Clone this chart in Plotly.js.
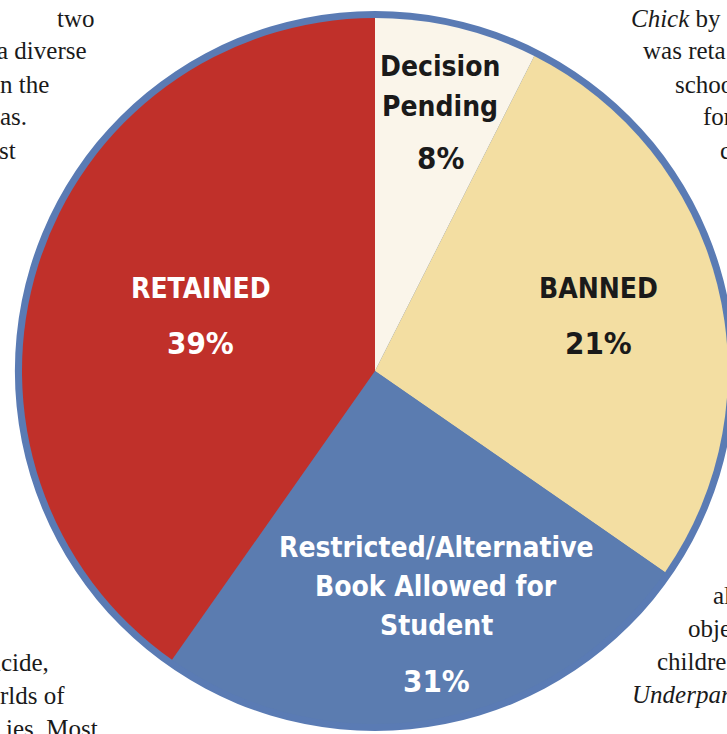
<!DOCTYPE html>
<html>
<head>
<meta charset="utf-8">
<script src="https://cdn.plot.ly/plotly-3.0.1.min.js"></script>
<style>
html, body { margin:0; padding:0; overflow:hidden; background:#fff; }
#chart { width:745px; height:734px; }
</style>
</head>
<body>
<div id="chart"></div>
<script>
// Slice sizes as drawn (share of the circle) and the printed percentages
var categories = ["Decision Pending", "BANNED", "Restricted/Alternative Book Allowed for Student", "RETAINED"];
var sliceValues = [7.45, 27.2, 25.1, 40.25];
var printedPercents = ["8%", "21%", "31%", "39%"];
var labelLines = [["Decision", "Pending"], ["BANNED"], ["Restricted/Alternative", "Book Allowed for", "Student"], ["RETAINED"]];
var sliceColors = ["#faf5ea", "#f3dea2", "#5b7cb0", "#c0302a"];
var labelColors = ["#1a1a1a", "#1a1a1a", "#ffffff", "#ffffff"];

// Surrounding body text fragments (cropped page text)
var leftTopText = ["two", "a diverse", "n the", "tas.", "st"];
var rightTopText = ["<i>Chick</i> by", "was reta", "schoo", "for", "c"];
var leftBottomText = ["icide,", "rlds of", "ies. Most"];
var rightBottomText = ["al", "obje", "childre", "<i>Underpar</i>"];

var W = 745, H = 734;
function px(x) { return x / W; }
function py(y) { return 1 - y / H; }

var cx = 375, cy = 371, rOuter = 360, rInner = 353;

var ring = {
  type: "pie",
  values: [1],
  labels: ["ring"],
  marker: { colors: ["#5a7bb4"], line: { width: 0 } },
  textinfo: "none",
  hoverinfo: "skip",
  sort: false,
  showlegend: false,
  domain: { x: [px(cx - rOuter), px(cx + rOuter)], y: [py(cy + rOuter), py(cy - rOuter)] }
};

var pie = {
  type: "pie",
  values: sliceValues,
  labels: categories,
  marker: { colors: sliceColors, line: { width: 0 } },
  textinfo: "none",
  hoverinfo: "skip",
  sort: false,
  direction: "clockwise",
  rotation: 0,
  showlegend: false,
  domain: { x: [px(cx - rInner), px(cx + rInner)], y: [py(cy + rInner), py(cy - rInner)] }
};

var labelFont = "'DejaVu Sans Condensed', 'Liberation Sans Narrow', sans-serif";
var labelPos = [
  { x: 440, y0: 67, dy: 39, yp: 158 },
  { x: 598, y0: 288, dy: 39, yp: 343 },
  { x: 436, y0: 547, dy: 39, yp: 681 },
  { x: 201, y0: 288, dy: 39, yp: 343 }
];

var annotations = [];
for (var i = 0; i < categories.length; i++) {
  var p = labelPos[i];
  labelLines[i].forEach(function (t, k) {
    annotations.push({
      text: "<b>" + t + "</b>", xref: "paper", yref: "paper",
      x: px(p.x), y: py(p.y0 + k * p.dy), xanchor: "center", yanchor: "middle",
      showarrow: false, font: { family: labelFont, size: 28, color: labelColors[i] }
    });
  });
  annotations.push({
    text: "<b>" + printedPercents[i] + "</b>", xref: "paper", yref: "paper",
    x: px(p.x), y: py(p.yp), xanchor: "center", yanchor: "middle",
    showarrow: false, font: { family: labelFont, size: 31, color: labelColors[i] }
  });
}

var serif = "'Liberation Serif', 'DejaVu Serif', serif";
function addBody(lines, xs, y0, anchor) {
  lines.forEach(function (t, k) {
    annotations.push({
      text: t, xref: "paper", yref: "paper",
      x: px(xs[k]), y: py(y0 + k * 33), xanchor: anchor, yanchor: "middle",
      showarrow: false, font: { family: serif, size: 25, color: "#1a1a1a" }
    });
  });
}
addBody(leftTopText, [97, 89, 51, 29, 18], 18, "right");
addBody(rightTopText, [629, 641, 673, 701, 718], 18, "left");
addBody(leftBottomText, [51, 67, 100], 662, "right");
addBody(rightBottomText, [711, 686, 655, 630], 595, "left");

var layout = {
  width: W, height: H,
  margin: { l: 0, r: 0, t: 0, b: 0, pad: 0 },
  paper_bgcolor: "#ffffff",
  plot_bgcolor: "#ffffff",
  showlegend: false,
  annotations: annotations
};

Plotly.newPlot("chart", [ring, pie], layout, { displayModeBar: false, staticPlot: true });
</script>
</body>
</html>
